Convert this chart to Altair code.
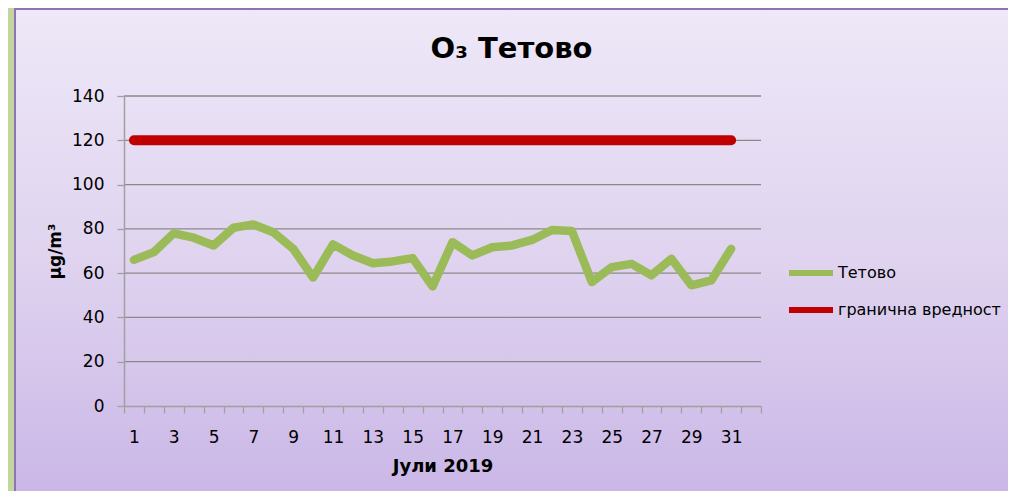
import altair as alt
import pandas as pd

days = list(range(1, 32))
tetovo = [66, 69.5, 78, 76, 72.5, 80.5, 82, 78.5, 71, 58, 73, 68, 64.5, 65.3, 66.8,
          54, 74, 68, 71.7, 72.5, 75, 79.5, 79, 56, 62.7, 64.2, 59, 66.5, 54.5, 56.7, 71]
limit = [120] * 31
series_names = ["Тетово", "гранична вредност"]
series_colors = ["#9bbb59", "#c00000"]
grid_values = [20, 40, 60, 80, 100, 120, 140]
x_domain = list(range(1, 33))

FONT = "DejaVu Sans"

df_t = pd.DataFrame({"day": days, "value": tetovo, "series": series_names[0]})
df_l = pd.DataFrame({"day": days, "value": limit, "series": series_names[1]})
df_g = pd.DataFrame({"value": grid_values})
df_bg = pd.DataFrame({"a": [0]})

yscale = alt.Scale(domain=[0, 140], nice=False, zero=True)
yaxis = alt.Axis(values=[0, 20, 40, 60, 80, 100, 120, 140], grid=False, zindex=1,
                 title="µg/m³", titleFont=FONT, titleFontSize=17, titleFontWeight="bold",
                 titleColor="black", titlePadding=7,
                 labelFont=FONT, labelFontSize=17, labelColor="black", labelPadding=13,
                 tickSize=7, tickColor="#a0a0a0", tickWidth=1.3,
                 domainColor="#a0a0a0", domainWidth=1.5)
xscale = alt.Scale(type="band", domain=x_domain, paddingInner=0, paddingOuter=0)
xaxis = alt.Axis(tickBand="extent", labelAngle=0, grid=False, zindex=1,
                 labelExpr="datum.value % 2 == 1 ? datum.label : ''",
                 title="Јули 2019", titleFont=FONT, titleFontSize=18, titleFontWeight="bold",
                 titleColor="black", titlePadding=12,
                 labelFont=FONT, labelFontSize=17, labelColor="black", labelPadding=16,
                 tickSize=7, tickColor="#a0a0a0", tickWidth=1.3,
                 domainColor="#a0a0a0", domainWidth=1.5)
cscale = alt.Scale(domain=series_names, range=series_colors)
legend = alt.Legend(title=None, orient="none", legendX=662, legendY=152, padding=0,
                    symbolType="stroke", symbolSize=1936, symbolStrokeWidth=6,
                    labelFont=FONT, labelFontSize=16, labelColor="black", labelOffset=2,
                    labelLimit=400, rowPadding=-3)

bg = alt.Chart(df_bg).mark_rect(
    color=alt.Gradient(gradient="linear",
                       stops=[alt.GradientStop(color="#eee8f8", offset=0),
                              alt.GradientStop(color="#dfd3ef", offset=0.5),
                              alt.GradientStop(color="#c8b4e6", offset=1)],
                       x1=0, x2=0, y1=0, y2=1),
    stroke="#8f73b7", strokeWidth=2
).encode(x=alt.value(-109), x2=alt.value(900), y=alt.value(-87), y2=alt.value(420))

grid = alt.Chart(df_g).mark_rule(color="#8a8a8a", strokeWidth=1.3).encode(
    y=alt.Y("value:Q", scale=yscale, axis=yaxis))

line_l = alt.Chart(df_l).mark_line(strokeWidth=10, strokeCap="round", strokeJoin="round").encode(
    x=alt.X("day:O", scale=xscale, axis=xaxis, bandPosition=0.5),
    y=alt.Y("value:Q", scale=yscale, axis=yaxis),
    color=alt.Color("series:N", scale=cscale, legend=legend))

line_t = alt.Chart(df_t).mark_line(strokeWidth=8.5, strokeCap="round", strokeJoin="round").encode(
    x=alt.X("day:O", scale=xscale, axis=xaxis, bandPosition=0.5),
    y=alt.Y("value:Q", scale=yscale, axis=yaxis),
    color=alt.Color("series:N", scale=cscale, legend=legend))

chart = alt.layer(bg, grid, line_l, line_t).properties(
    width=637, height=310,
    autosize=alt.AutoSizeParams(type="none"),
    padding={"left": 116, "top": 88, "right": 247, "bottom": 85},
    background="#c3d69b",
    title=alt.Title("O₃ Тетово", font=FONT, fontSize=29, fontWeight="bold", color="black",
                    anchor="middle", dx=69, offset=0, dy=56),
).configure_view(stroke=None)

chart.save("out.html", embed_options={"renderer": "svg", "actions": False})
